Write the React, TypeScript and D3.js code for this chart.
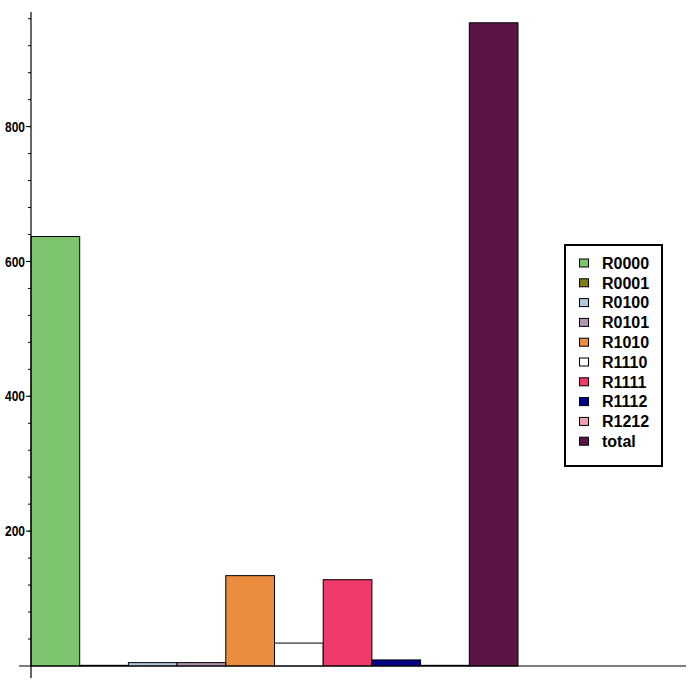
import React, { useEffect, useRef } from 'react';
import * as d3 from 'd3';

const categories = ['R0000', 'R0001', 'R0100', 'R0101', 'R1010', 'R1110', 'R1111', 'R1112', 'R1212', 'total'];
const values = [637, 1, 5, 5, 134, 34, 128, 9, 1, 954];
const colors = ['#7dc46f', '#7f7f14', '#b3c6da', '#b394b0', '#ec8c3e', '#ffffff', '#ef3a6a', '#00008b', '#f29eb0', '#5a1446'];
const majorTicks = [200, 400, 600, 800];

const W = 690;
const H = 690;

const App: React.FC = () => {
  const svgRef = useRef<SVGSVGElement | null>(null);

  useEffect(() => {
    if (!svgRef.current) return;
    const svg = d3.select(svgRef.current);
    svg.selectAll('*').remove();

    const x0 = 31;
    const y0 = 666;
    const y = d3.scaleLinear().domain([0, 970]).range([y0, 12]);
    const x = d3.scaleBand<string>().domain(categories).range([x0, 518]).paddingInner(0);

    // bars
    svg.append('g')
      .selectAll('rect')
      .data(categories)
      .enter().append('rect')
        .attr('x', d => x(d)!)
        .attr('width', x.bandwidth())
        .attr('y', (d, i) => y(values[i]))
        .attr('height', (d, i) => y0 - y(values[i]))
        .attr('fill', (d, i) => colors[i])
        .attr('stroke', '#000')
        .attr('stroke-width', 1);

    // axes, drawn by hand since the tick style is unusual
    const axis = svg.append('g').attr('stroke', '#000');
    axis.append('line').attr('x1', 19).attr('x2', 686).attr('y1', y0).attr('y2', y0).attr('stroke-width', 1.2);
    axis.append('line').attr('x1', x0).attr('x2', x0).attr('y1', 12).attr('y2', 678).attr('stroke-width', 1.2);

    const minor = d3.range(40, 970, 40);
    axis.selectAll('.minor')
      .data(minor)
      .enter().append('line')
        .attr('x1', x0 - 3).attr('x2', x0)
        .attr('y1', d => y(d)).attr('y2', d => y(d))
        .attr('stroke-width', 1);

    axis.selectAll('.major')
      .data(majorTicks)
      .enter().append('line')
        .attr('x1', x0 - 5).attr('x2', x0)
        .attr('y1', d => y(d)).attr('y2', d => y(d))
        .attr('stroke-width', 1);

    // narrow bold labels: squeeze a normal bold face into the narrow width
    svg.append('g')
      .selectAll('text')
      .data(majorTicks)
      .enter().append('text')
        .attr('x', 5)
        .attr('y', d => y(d))
        .attr('dy', '0.36em')
        .attr('textLength', 20)
        .attr('lengthAdjust', 'spacingAndGlyphs')
        .style('font-family', '"Liberation Sans", Arial, sans-serif')
        .style('font-weight', 'bold')
        .style('font-size', '14px')
        .text(d => String(d));

    // legend
    const lg = svg.append('g');
    lg.append('rect')
      .attr('x', 565).attr('y', 245).attr('width', 97).attr('height', 221)
      .attr('fill', '#fff').attr('stroke', '#000').attr('stroke-width', 2);

    const rows = lg.selectAll('.row')
      .data(categories)
      .enter().append('g')
        .attr('transform', (d, i) => `translate(0,${263 + i * 19.8})`);

    rows.append('rect')
      .attr('x', 579.5).attr('y', -4).attr('width', 9).attr('height', 8)
      .attr('fill', (d, i) => colors[i])
      .attr('stroke', '#000').attr('stroke-width', 1);

    rows.append('text')
      .attr('x', 602)
      .attr('dy', '0.36em')
      .style('font-family', '"Liberation Sans", Arial, sans-serif')
      .style('font-weight', 'bold')
      .style('font-size', '16px')
      .text(d => d);
  }, []);

  return (
    <div style={{ position: 'absolute', left: 0, top: 0, width: W, height: H, background: '#fff' }}>
      <svg ref={svgRef} width={W} height={H}></svg>
    </div>
  );
};

export default App;
